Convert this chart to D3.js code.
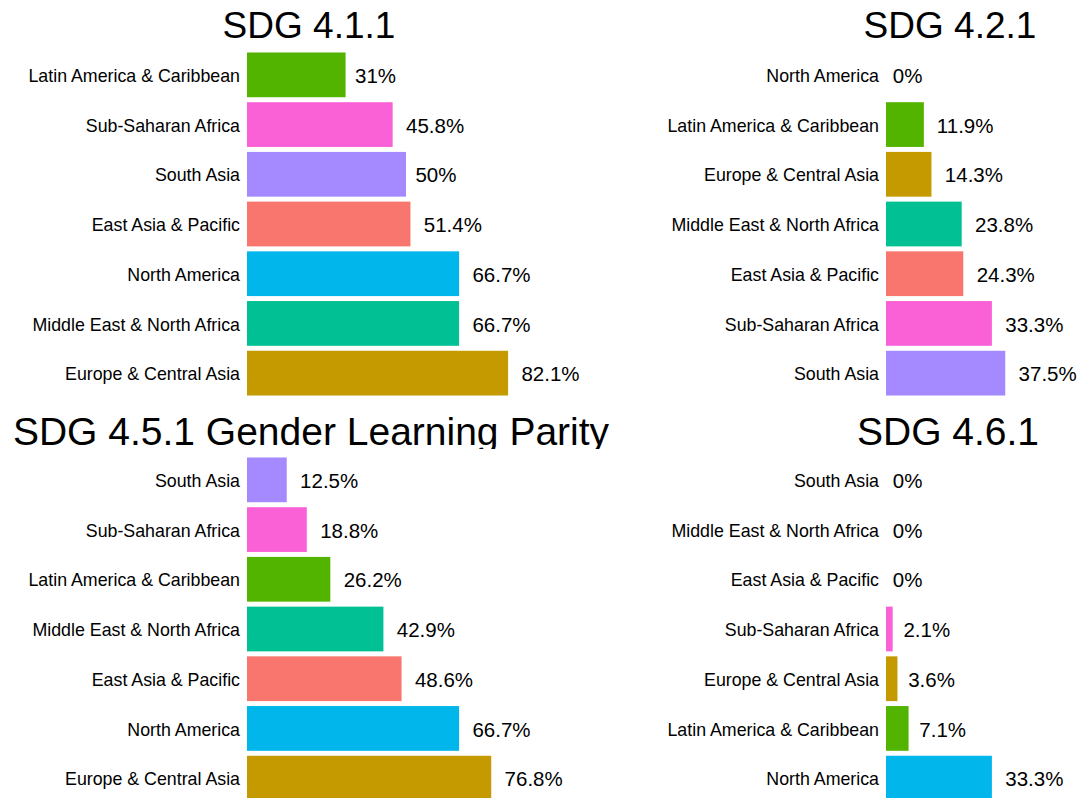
<!DOCTYPE html>
<html>
<head>
<meta charset="utf-8">
<script src="https://cdn.jsdelivr.net/npm/d3@7"></script>
<style>
    body { margin: 0; background: #fff; }
    text { font-family: "Liberation Sans", Arial, sans-serif; fill: #000; }
</style>
</head>
<body>
<div id="chart"></div>
<script>
// region colours (ggplot default hue palette)
const regionNames = ["East Asia & Pacific", "Europe & Central Asia", "Latin America & Caribbean",
    "Middle East & North Africa", "North America", "South Asia", "Sub-Saharan Africa"];
const regionColors = ["#F8766D", "#C49A00", "#53B400", "#00C094", "#00B6EB", "#A58AFF", "#FB61D7"];

// each panel, top to bottom
const sdg411Regions = ["Latin America & Caribbean", "Sub-Saharan Africa", "South Asia", "East Asia & Pacific",
    "North America", "Middle East & North Africa", "Europe & Central Asia"];
const sdg411Values = [31, 45.8, 50, 51.4, 66.7, 66.7, 82.1];

const sdg421Regions = ["North America", "Latin America & Caribbean", "Europe & Central Asia",
    "Middle East & North Africa", "East Asia & Pacific", "Sub-Saharan Africa", "South Asia"];
const sdg421Values = [0, 11.9, 14.3, 23.8, 24.3, 33.3, 37.5];

const sdg451Regions = ["South Asia", "Sub-Saharan Africa", "Latin America & Caribbean",
    "Middle East & North Africa", "East Asia & Pacific", "North America", "Europe & Central Asia"];
const sdg451Values = [12.5, 18.8, 26.2, 42.9, 48.6, 66.7, 76.8];

const sdg461Regions = ["South Asia", "Middle East & North Africa", "East Asia & Pacific", "Sub-Saharan Africa",
    "Europe & Central Asia", "Latin America & Caribbean", "North America"];
const sdg461Values = [0, 0, 0, 2.1, 3.6, 7.1, 33.3];

const panelTitles = ["SDG 4.1.1", "SDG 4.2.1", "SDG 4.5.1 Gender Learning Parity", "SDG 4.6.1"];

const color = d3.scaleOrdinal().domain(regionNames).range(regionColors);

const svg = d3.select("#chart").append("svg")
    .attr("width", 1079)
    .attr("height", 798);

// clip for the bottom-left title (descenders are cut in the original)
svg.append("clipPath").attr("id", "clipTitle")
    .append("rect").attr("x", 0).attr("y", 400).attr("width", 1079).attr("height", 49);

function drawPanel(cfg) {
    let data = cfg.regions.map((r, i) => ({ region: r, value: cfg.values[i] }));

    let g = svg.append("g").attr("transform", `translate(${cfg.left},0)`);

    let x = d3.scaleLinear().domain([0, 100]).range([0, 318]);
    let y = d3.scaleBand()
        .domain(cfg.regions)
        .range([cfg.top, cfg.top + 348])
        .paddingInner(0.1)
        .paddingOuter(0.05);

    g.selectAll(".bar")
        .data(data)
        .enter().append("rect")
        .attr("class", "bar")
        .attr("x", x(0))
        .attr("y", d => y(d.region))
        .attr("width", d => x(d.value) - x(0))
        .attr("height", y.bandwidth())
        .attr("fill", d => color(d.region));

    // region names on the left
    g.selectAll(".ylab")
        .data(data)
        .enter().append("text")
        .attr("class", "ylab")
        .attr("x", -7)
        .attr("y", d => y(d.region) + y.bandwidth() / 2)
        .attr("dy", "0.4em")
        .attr("text-anchor", "end")
        .style("font-size", "17.8px")
        .text(d => d.region);

    // value labels, pushed out by a share of their own width
    g.selectAll(".vlab")
        .data(data)
        .enter().append("text")
        .attr("class", "vlab")
        .attr("y", d => y(d.region) + y.bandwidth() / 2)
        .attr("dy", "0.4em")
        .style("font-size", "20.5px")
        .text(d => d.value + "%")
        .attr("x", function(d) {
            return x(d.value) + 0.23 * this.getComputedTextLength();
        });

    let title = svg.append("text")
        .attr("x", cfg.titleX)
        .attr("y", cfg.titleY)
        .attr("text-anchor", "middle")
        .style("font-size", cfg.titleSize + "px")
        .text(cfg.title);
    if (cfg.clip) title.attr("clip-path", "url(#clipTitle)");
}

drawPanel({ left: 247, top: 50, regions: sdg411Regions, values: sdg411Values,
    title: panelTitles[0], titleX: 309, titleY: 38, titleSize: 37 });
drawPanel({ left: 886, top: 50, regions: sdg421Regions, values: sdg421Values,
    title: panelTitles[1], titleX: 950, titleY: 38, titleSize: 37 });
drawPanel({ left: 247, top: 455, regions: sdg451Regions, values: sdg451Values,
    title: panelTitles[2], titleX: 311, titleY: 445, titleSize: 39, clip: true });
drawPanel({ left: 886, top: 455, regions: sdg461Regions, values: sdg461Values,
    title: panelTitles[3], titleX: 948, titleY: 445, titleSize: 39 });
</script>
</body>
</html>
